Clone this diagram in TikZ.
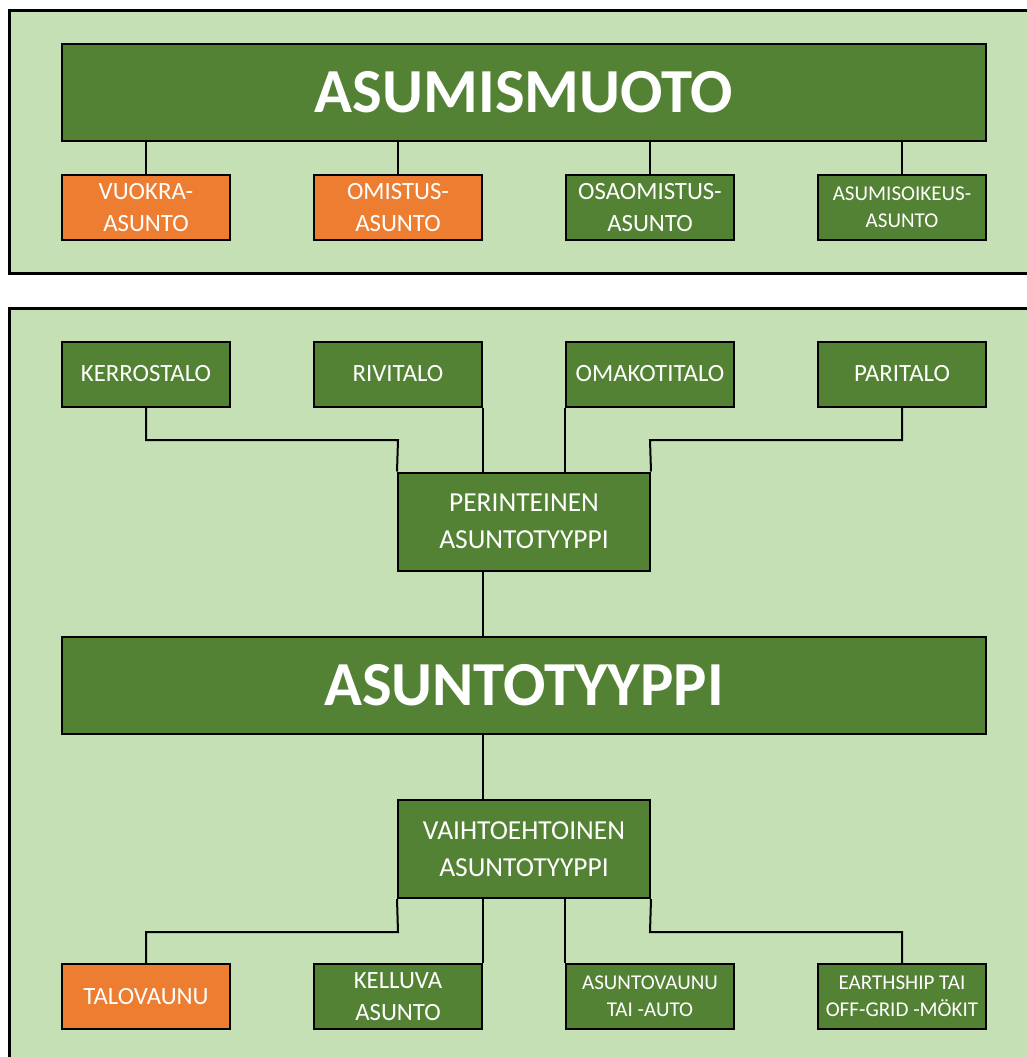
\documentclass[tikz,border=0pt]{standalone}
\usepackage{fontspec}
\setmainfont{Carlito}
\usetikzlibrary{calc}

\begin{document}
\begin{tikzpicture}[x=0.75pt, y=-0.75pt,
    box/.style={draw=black, line width=1.5pt, fill=boxColour, text=white, inner sep=0pt, align=center},
    ownbox/.style={box, fill=ownColour},
    bigbox/.style={box, minimum width=693pt, minimum height=72.75pt, font=\fontsize{47}{56}\selectfont\bfseries},
    midbox/.style={box, minimum width=189pt, minimum height=73.5pt, font=\fontsize{20.6}{27.5}\selectfont},
    smallbox/.style={minimum width=126pt, minimum height=48.75pt, font=\fontsize{18.6}{24}\selectfont},
    tinytext/.style={font=\fontsize{15.8}{20}\selectfont},
    link/.style={draw=black, line width=1.5pt},
    panel/.style={fill=panelColour, draw=black, line width=2.25pt}]
    % Define colours
    \definecolor{boxColour}{HTML}{548235}
    \definecolor{ownColour}{HTML}{ED7D31}
    \definecolor{panelColour}{HTML}{C5E0B4}

    % Fix picture size
    \useasboundingbox (0,0) rectangle (1026,1057);

    % Draw panels
    \filldraw[panel] (9,10) rectangle (1040,273);
    \filldraw[panel] (9,308) rectangle (1040,1075);

    % Top panel: asumismuoto
    \node[bigbox] (muoto) at (524,92.5) {ASUMISMUOTO};
    \node[ownbox, smallbox] (vuokra) at (146,207.5) {VUOKRA-\\ASUNTO};
    \node[ownbox, smallbox] (omistus) at (398,207.5) {OMISTUS-\\ASUNTO};
    \node[box, smallbox] (osaomistus) at (650,207.5) {OSAOMISTUS-\\ASUNTO};
    \node[box, smallbox, tinytext] (asumisoikeus) at (902,207.5) {ASUMISOIKEUS-\\ASUNTO};

    \foreach \n in {vuokra, omistus, osaomistus, asumisoikeus}
        \draw[link] (\n.north |- muoto.south) -- (\n.north);

    % Bottom panel: perinteiset asuntotyypit
    \node[box, smallbox] (kerrostalo) at (146,374) {KERROSTALO};
    \node[box, smallbox] (rivitalo) at (398,374) {RIVITALO};
    \node[box, smallbox] (omakotitalo) at (650,374) {OMAKOTITALO};
    \node[box, smallbox] (paritalo) at (902,374) {PARITALO};
    \node[midbox] (perinteinen) at (524,521.5) {PERINTEINEN\\ASUNTOTYYPPI};

    % Main box
    \node[bigbox] (tyyppi) at (524,685) {ASUNTOTYYPPI};

    % Vaihtoehtoiset asuntotyypit
    \node[midbox] (vaihtoehtoinen) at (524,849) {VAIHTOEHTOINEN\\ASUNTOTYYPPI};
    \node[ownbox, smallbox] (talovaunu) at (146,996.5) {TALOVAUNU};
    \node[box, smallbox] (kelluva) at (398,996.5) {KELLUVA\\ASUNTO};
    \node[box, smallbox, tinytext] (asuntovaunu) at (650,996.5) {ASUNTOVAUNU\\TAI -AUTO};
    \node[box, smallbox, tinytext] (earthship) at (902,996.5) {EARTHSHIP TAI\\OFF-GRID -MÖKIT};

    % Knee points of the connectors
    \coordinate (perKneeL) at (398,440);
    \coordinate (perKneeR) at (650,440);
    \coordinate (vaiKneeL) at (398,932);
    \coordinate (vaiKneeR) at (650,932);

    % Draw connectors
    \draw[link] (kerrostalo.south) |- (perKneeL) -- (perinteinen.north west);
    \draw[link] (paritalo.south) |- (perKneeR) -- (perinteinen.north east);
    \draw[link] (rivitalo.south east) -- (rivitalo.south east |- perinteinen.north);
    \draw[link] (omakotitalo.south west) -- (omakotitalo.south west |- perinteinen.north);
    \draw[link] (rivitalo.south east |- perinteinen.south) -- (rivitalo.south east |- tyyppi.north);
    \draw[link] (kelluva.north east |- tyyppi.south) -- (kelluva.north east |- vaihtoehtoinen.north);
    \draw[link] (vaihtoehtoinen.south west) -- (vaiKneeL) -| (talovaunu.north);
    \draw[link] (vaihtoehtoinen.south east) -- (vaiKneeR) -| (earthship.north);
    \draw[link] (kelluva.north east |- vaihtoehtoinen.south) -- (kelluva.north east);
    \draw[link] (asuntovaunu.north west |- vaihtoehtoinen.south) -- (asuntovaunu.north west);

\end{tikzpicture}
\end{document}
